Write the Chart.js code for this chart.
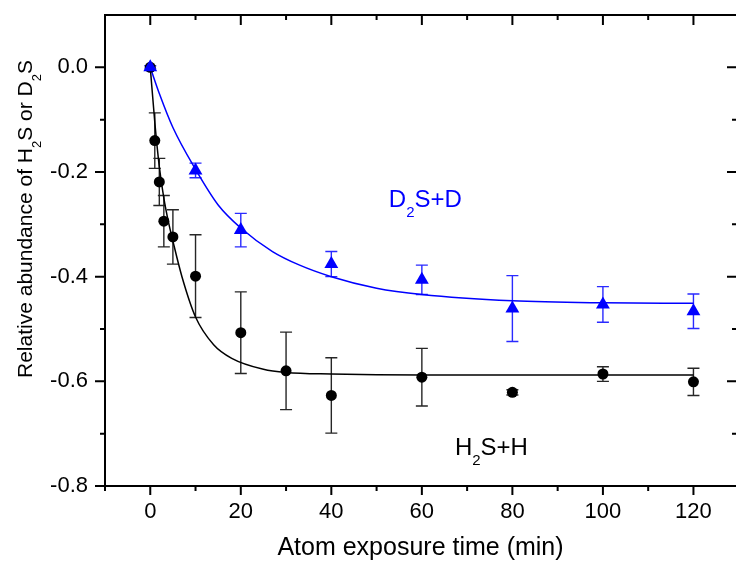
<!DOCTYPE html>
<html>
<head>
<meta charset="utf-8">
<script src="https://cdn.jsdelivr.net/npm/chart.js@4.4.0/dist/chart.umd.min.js"></script>
<style>
  html, body { margin: 0; padding: 0; background: #fff; }
  #wrap { width: 744px; height: 563px; }
</style>
</head>
<body>
<div id="wrap"><canvas id="chart"></canvas></div>
<script>
// H2S + H  (black circles)
const hTime  = [0, 1, 2, 3, 5, 10, 20, 30, 40, 60, 80, 100, 120];
const hValue = [0, -0.140, -0.219, -0.294, -0.324, -0.399, -0.507, -0.580, -0.627, -0.592, -0.621, -0.586, -0.601];
const hError = [0, 0.053, 0.045, 0.049, 0.052, 0.079, 0.078, 0.074, 0.072, 0.055, 0.005, 0.014, 0.026];

// D2S + D  (blue triangles)
const dTime  = [0, 10, 20, 40, 60, 80, 100, 120];
const dValue = [0, -0.197, -0.311, -0.376, -0.406, -0.461, -0.453, -0.466];
const dError = [0.003, 0.014, 0.032, 0.024, 0.028, 0.063, 0.034, 0.033];

// fitted curves
const hFitTime  = [0, 1, 2, 3, 4, 5, 7, 10, 14, 18, 25, 30, 40, 60, 80, 100, 120];
const hFitValue = [0, -0.105, -0.19, -0.25, -0.295, -0.332, -0.40, -0.477, -0.530, -0.556, -0.577, -0.583, -0.586, -0.588, -0.588, -0.588, -0.588];
const dFitTime  = [0, 2, 5, 10, 15, 20, 27, 33, 40, 50, 60, 80, 100, 120];
const dFitValue = [0, -0.05, -0.115, -0.195, -0.263, -0.307, -0.352, -0.378, -0.400, -0.422, -0.434, -0.446, -0.450, -0.451];

const xTicks = [0, 20, 40, 60, 80, 100, 120];
const yTicks = [-0.8, -0.6, -0.4, -0.2, 0.0];

const FONT = "'Liberation Sans', Arial, sans-serif";

function pts(xs, ys) {
    return xs.map((x, i) => ({ x: x, y: ys[i] }));
}

// text with subscripts: parts = [[text, isSub], ...]
function drawParts(ctx, parts, x, y, size) {
    let cx = x;
    parts.forEach(([txt, sub]) => {
        ctx.font = (sub ? Math.round(size * 0.62) : size) + 'px ' + FONT;
        ctx.fillText(txt, cx, sub ? y + size * 0.42 : y);
        cx += ctx.measureText(txt).width;
    });
}

const errorBars = {
    id: 'errorBars',
    beforeDatasetsDraw(chart) {
        const { ctx, scales: { x, y } } = chart;
        const sets = [
            { t: hTime, v: hValue, e: hError, color: '#262626' },
            { t: dTime, v: dValue, e: dError, color: '#2a2aff' }
        ];
        ctx.save();
        ctx.lineWidth = 1.4;
        sets.forEach(s => {
            ctx.strokeStyle = s.color;
            s.t.forEach((t, i) => {
                if (!s.e[i]) return;
                const px = x.getPixelForValue(t);
                const top = y.getPixelForValue(s.v[i] + s.e[i]);
                const bot = y.getPixelForValue(s.v[i] - s.e[i]);
                ctx.beginPath();
                ctx.moveTo(px, top); ctx.lineTo(px, bot);
                ctx.moveTo(px - 6, top); ctx.lineTo(px + 6, top);
                ctx.moveTo(px - 6, bot); ctx.lineTo(px + 6, bot);
                ctx.stroke();
            });
        });
        ctx.restore();
    }
};

const frame = {
    id: 'frame',
    afterDraw(chart) {
        const { ctx, chartArea: a, scales: { x, y } } = chart;
        ctx.save();
        ctx.strokeStyle = '#000';
        ctx.lineWidth = 2;
        ctx.beginPath();
        ctx.moveTo(a.left, a.top); ctx.lineTo(a.right, a.top);
        ctx.moveTo(a.left, a.top - 1); ctx.lineTo(a.left, a.bottom + 1);
        ctx.moveTo(a.left, a.bottom); ctx.lineTo(a.right, a.bottom);
        // x ticks, minor every 10
        for (let v = -10; v <= 120; v += 10) {
            const px = x.getPixelForValue(v);
            const major = v % 20 === 0;
            ctx.moveTo(px, a.bottom); ctx.lineTo(px, a.bottom + (major ? 9 : 5));
            ctx.moveTo(px, a.top); ctx.lineTo(px, a.top + (major ? 10 : 5));
        }
        // y ticks, minor every 0.1
        for (let k = -8; k <= 0; k++) {
            const py = y.getPixelForValue(k / 10);
            const major = k % 2 === 0;
            ctx.moveTo(a.left - (major ? 10 : 5), py); ctx.lineTo(a.left, py);
            ctx.moveTo(a.right - (major ? 9 : 4), py); ctx.lineTo(a.right, py);
        }
        ctx.stroke();

        // y axis title
        ctx.fillStyle = '#000';
        ctx.textBaseline = 'alphabetic';
        ctx.translate(32, 378);
        ctx.rotate(-Math.PI / 2);
        drawParts(ctx, [['Relative abundance of H', false], ['2', true], ['S or D', false], ['2', true], ['S', false]], 0, 0, 21);
        ctx.restore();
    }
};

const labels = {
    id: 'labels',
    afterDatasetsDraw(chart) {
        const { ctx, scales: { x, y } } = chart;
        ctx.save();
        ctx.textBaseline = 'alphabetic';
        ctx.fillStyle = '#0000ff';
        drawParts(ctx, [['D', false], ['2', true], ['S+D', false]], x.getPixelForValue(52.7), y.getPixelForValue(-0.266), 24);
        ctx.fillStyle = '#000';
        drawParts(ctx, [['H', false], ['2', true], ['S+H', false]], x.getPixelForValue(67.3), y.getPixelForValue(-0.740), 24);
        ctx.restore();
    }
};

new Chart(document.getElementById('chart'), {
    type: 'scatter',
    data: {
        datasets: [
            {
                label: 'D2S+D',
                data: pts(dTime, dValue),
                pointStyle: 'triangle',
                pointRadius: 8,
                backgroundColor: '#0000ff',
                borderColor: '#0000ff',
                borderWidth: 0,
                order: 0
            },
            {
                label: 'H2S+H',
                data: pts(hTime, hValue),
                pointStyle: 'circle',
                pointRadius: 5.5,
                backgroundColor: '#000',
                borderColor: '#000',
                borderWidth: 0,
                order: 1
            },
            {
                label: 'D2S+D fit',
                data: pts(dFitTime, dFitValue),
                showLine: true,
                pointRadius: 0,
                borderColor: '#0000ff',
                borderWidth: 1.5,
                cubicInterpolationMode: 'monotone',
                order: 2
            },
            {
                label: 'H2S+H fit',
                data: pts(hFitTime, hFitValue),
                showLine: true,
                pointRadius: 0,
                borderColor: '#000',
                borderWidth: 1.5,
                cubicInterpolationMode: 'monotone',
                order: 3
            }
        ]
    },
    options: {
        responsive: true,
        maintainAspectRatio: false,
        animation: false,
        layout: { padding: 0 },
        plugins: {
            legend: { display: false },
            tooltip: { enabled: false }
        },
        scales: {
            x: {
                type: 'linear',
                min: -10,
                max: 129.4,
                grid: { display: false, drawTicks: false },
                border: { display: false },
                afterBuildTicks: s => { s.ticks = xTicks.map(v => ({ value: v })); },
                afterFit: s => { s.height = 77; s.paddingLeft = 0; s.paddingRight = 0; },
                ticks: {
                    color: '#000',
                    padding: 13,
                    maxRotation: 0,
                    font: { family: FONT, size: 22 }
                },
                title: {
                    display: true,
                    text: 'Atom exposure time (min)',
                    color: '#000',
                    padding: 0,
                    font: { family: FONT, size: 25 }
                }
            },
            y: {
                min: -0.8,
                max: 0.1,
                grid: { display: false, drawTicks: false },
                border: { display: false },
                afterBuildTicks: s => { s.ticks = yTicks.map(v => ({ value: v })); },
                afterFit: s => { s.width = 105; s.paddingTop = 15; s.paddingBottom = 0; },
                ticks: {
                    color: '#000',
                    padding: 17,
                    font: { family: FONT, size: 22 },
                    callback: v => v.toFixed(1)
                }
            }
        }
    },
    plugins: [errorBars, frame, labels]
});
</script>
</body>
</html>
